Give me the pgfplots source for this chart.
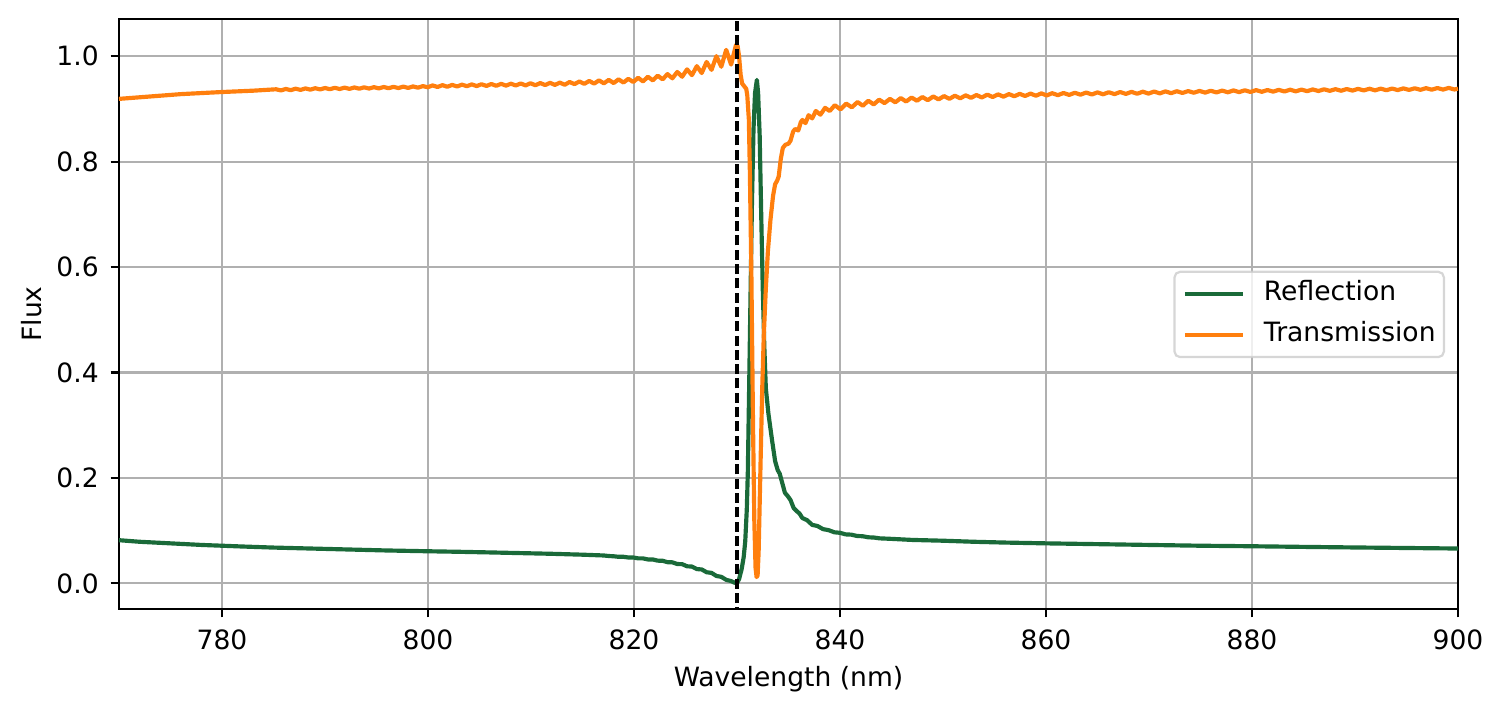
\documentclass[border=0pt]{standalone}
\usepackage{pgfplots}
\pgfplotsset{compat=1.18}
\usepackage{fontspec}
\setmainfont{DejaVu Sans}
\definecolor{refgreen}{HTML}{1A6A39}
\definecolor{traorange}{HTML}{FF7F0E}
\definecolor{gridgray}{HTML}{B0B0B0}
\definecolor{legframe}{HTML}{CCCCCC}
\begin{document}
\fontsize{9.6}{11.5}\selectfont
\begin{tikzpicture}
\useasboundingbox (0,0) rectangle (540.72bp,256.68bp);
\begin{axis}[
  at={(42.84bp,37.44bp)}, anchor=south west,
  scale only axis, width=482.04bp, height=212.4bp,
  xmin=770, xmax=900, ymin=-0.0485, ymax=1.0705,
  xtick={780,800,...,900}, ytick={0,0.2,...,1.0},
  grid=major, major grid style={color=gridgray, line width=0.75bp},
  axis line style={line width=0.75bp, black},
  tick align=outside, major tick length=3bp,
  every tick/.style={black, line width=0.75bp},
  xtick pos=bottom, ytick pos=left,
  /pgf/number format/assume math mode=true,
  tick label style={font=\fontsize{9.6}{11.5}\selectfont},
  xticklabel style={inner sep=0pt, anchor=north, yshift=-4.3bp},
  yticklabel style={inner sep=0pt, anchor=east, xshift=-4.1bp,
    /pgf/number format/.cd, fixed, fixed zerofill, precision=1},
  xlabel={Wavelength (nm)}, ylabel={Flux},
  label style={font=\fontsize{9.6}{11.5}\selectfont},
  xlabel style={at={(axis description cs:0.5,-0.1186)}, anchor=center, inner sep=0pt},
  ylabel style={at={(axis description cs:-0.065,0.5)}, anchor=center, inner sep=0pt, rotate=0},
  legend cell align=left,
  legend image code/.code={\draw[#1, opacity=1, draw opacity=1] (0bp,0bp) -- (20.9bp,0bp);},
  legend style={at={(0.9903,0.4992)}, anchor=east,
    draw=legframe, line width=0.8bp, fill=white, fill opacity=0.8, draw opacity=0.8, text opacity=1,
    rounded corners=2bp, inner xsep=3.0bp, inner ysep=3.2bp,
    font=\fontsize{9.6}{11.5}\selectfont,
    nodes={inner sep=0pt, text height=7.2bp, text depth=2.3bp},
    row sep=5.3bp,
    /tikz/every odd column/.append style={column sep=6.8bp}},
]
\addplot[refgreen, line width=1.5bp, line join=round] coordinates {
(770,0.082)(772,0.079)(774,0.077)(776,0.075)(778,0.073)(780,0.0715)(782,0.070)(785,0.068)(788,0.0665)(790,0.0655)(793,0.064)(796,0.0625)(800,0.061)(803,0.060)(806,0.0588)(809,0.0575)(812,0.0562)(815,0.0545)
(817.075,0.0530)(817.55,0.0520)(818.025,0.0515)(818.5,0.0505)(818.975,0.0505)(819.45,0.0492)(819.925,0.0492)(820.4,0.0475)(820.875,0.0475)(821.35,0.0455)(821.825,0.0455)(822.3,0.0432)(822.775,0.0430)(823.25,0.0403)(823.725,0.0400)(824.2,0.0368)(824.675,0.0365)(825.15,0.0325)(825.625,0.0320)(826.1,0.0272)(826.575,0.0265)(827.05,0.0212)(827.525,0.0200)(828.0,0.0142)(828.475,0.0125)(828.95,0.0068)(829.425,0.0045)(829.75,0.0015)(830.0,0.0005)
(830.2,0.008)(830.45,0.027)(830.65,0.05)(830.8,0.08)(830.95,0.14)(831.05,0.21)(831.17,0.36)(831.3,0.53)(831.45,0.72)(831.6,0.86)(831.75,0.93)(831.93,0.955)(832.05,0.93)(832.2,0.85)(832.35,0.70)(832.5,0.56)(832.65,0.45)(832.8,0.37)(833.05,0.322)(833.4,0.272)(833.7,0.232)(833.95,0.215)(834.15,0.208)(834.4,0.190)(834.65,0.172)(834.95,0.165)(835.2,0.158)(835.5,0.143)(835.8,0.137)(836.05,0.133)(836.35,0.124)(836.8,0.120)(837.3,0.111)(837.8,0.109)(838.35,0.103)(838.9,0.101)(839.45,0.097)(840.0,0.096)(840.55,0.093)(841.1,0.0925)(841.65,0.090)(842.2,0.0895)(842.75,0.0875)(843.3,0.087)(843.85,0.0855)
(845,0.0845)(847,0.0825)(850,0.081)(853,0.079)(856,0.0775)(860,0.0760)(865,0.0745)(870,0.0730)(875,0.0715)(880,0.0705)(885,0.0693)(890,0.0682)(895,0.0672)(900,0.0662)
};
\addlegendentry{Reflection}
\addplot[traorange, line width=1.5bp, line join=round] coordinates {
(770,0.919)(772,0.922)(774,0.925)(776,0.928)(778,0.930)(780,0.932)(783,0.9345)
(785.25,0.9372)(785.725,0.9350)(786.2,0.9378)(786.675,0.9355)(787.15,0.9383)(787.625,0.9360)(788.1,0.9388)(788.575,0.9365)(789.05,0.9392)(789.525,0.9369)(790.0,0.9396)(790.475,0.9373)(790.95,0.9400)(791.425,0.9377)(791.9,0.9403)(792.375,0.9380)(792.85,0.9406)(793.325,0.9383)(793.8,0.9409)(794.275,0.9386)(794.75,0.9412)(795.225,0.9389)(795.7,0.9415)(796.175,0.9392)(796.65,0.9418)(797.125,0.9395)(797.6,0.9422)(798.075,0.9398)(798.55,0.9426)(799.025,0.9402)(799.5,0.9432)(799.975,0.9410)
(800.45,0.9445)(800.925,0.9415)(801.4,0.9450)(801.875,0.9420)(802.35,0.9455)(802.825,0.9425)(803.3,0.9460)(803.775,0.9430)(804.25,0.9465)(804.725,0.9433)(805.2,0.9468)(805.675,0.9435)(806.15,0.9472)(806.625,0.9438)(807.1,0.9475)(807.575,0.9441)(808.05,0.9478)(808.525,0.9444)(809.0,0.9482)(809.475,0.9446)(809.95,0.9486)(810.425,0.9449)(810.9,0.9490)(811.375,0.9452)(811.85,0.9494)(812.325,0.9455)(812.8,0.9498)(813.275,0.9458)(813.75,0.951)(814.225,0.947)(814.7,0.952)(815.175,0.9475)(815.65,0.953)(816.125,0.948)(816.6,0.954)(817.075,0.9485)(817.55,0.955)(818.025,0.949)(818.5,0.956)(818.975,0.950)(819.45,0.957)(819.925,0.951)(820.4,0.959)(820.875,0.952)(821.35,0.961)(821.825,0.954)(822.3,0.963)(822.775,0.956)(823.25,0.966)(823.725,0.958)(824.2,0.970)(824.675,0.961)(825.15,0.975)(825.625,0.964)(826.1,0.981)(826.575,0.968)(827.05,0.989)(827.525,0.974)(828.0,1.000)(828.475,0.980)(828.95,1.012)(829.425,0.984)(829.9,1.021)
(830.05,1.020)(830.2,1.000)(830.35,0.965)(830.5,0.948)(830.7,0.943)(830.9,0.938)(831.0,0.925)(831.15,0.88)(831.25,0.78)(831.4,0.58)(831.55,0.31)(831.68,0.12)(831.8,0.03)(831.9,0.012)(832.0,0.015)(832.1,0.06)(832.3,0.24)(832.45,0.37)(832.6,0.47)(832.8,0.56)(833.0,0.63)(833.25,0.69)(833.5,0.735)(833.7,0.757)(833.9,0.764)(834.05,0.772)(834.25,0.805)(834.45,0.826)(834.7,0.832)(835.0,0.834)(835.2,0.840)(835.45,0.857)(835.65,0.862)(835.95,0.859)(836.2,0.875)
(836.35,0.879)(836.65,0.873)(836.95,0.888)(837.3,0.882)(837.65,0.896)(838.1,0.889)(838.55,0.902)(839.0,0.896)(839.5,0.907)(840.05,0.899)(840.6,0.910)(841.15,0.903)(841.7,0.913)(842.22,0.906)(842.75,0.9155)(843.27,0.9085)(843.8,0.9175)(844.32,0.911)(844.85,0.919)(845.37,0.9125)(845.9,0.9205)(846.42,0.914)(846.95,0.9215)(847.47,0.9155)(848.0,0.9225)(848.52,0.9165)(849.05,0.9235)(849.57,0.918)(850.1,0.9243)(850.62,0.919)(851.15,0.925)(851.67,0.920)(852.2,0.9257)(852.72,0.921)(853.25,0.9263)(853.77,0.9217)(854.3,0.927)(854.82,0.9225)(855.35,0.9275)(855.87,0.9232)(856.4,0.928)(856.92,0.924)(857.45,0.9285)(857.97,0.9245)(858.5,0.929)(859.02,0.925)(859.55,0.9294)(860.07,0.9255)(860.6,0.9298)
(861.15,0.926)(861.7,0.9302)(862.25,0.9265)(862.8,0.9306)(863.35,0.927)(863.9,0.931)(864.45,0.9273)(865.0,0.9313)(865.55,0.9277)(866.1,0.9316)(866.65,0.928)(867.2,0.932)(867.75,0.9284)(868.3,0.9323)(868.85,0.9287)(869.4,0.9326)(869.95,0.929)(870.5,0.9329)(871.05,0.9294)(871.6,0.9332)(872.15,0.9298)(872.7,0.9335)(873.25,0.9302)(873.8,0.9338)(874.35,0.9306)(874.9,0.9341)(875.45,0.9309)(876.0,0.9344)(876.55,0.9312)(877.1,0.9347)(877.65,0.9315)(878.2,0.935)(878.75,0.9318)(879.3,0.9353)(879.85,0.9321)(880.4,0.9356)
(880.95,0.9324)(881.5,0.9358)(882.05,0.9327)(882.6,0.9361)(883.15,0.933)(883.7,0.9364)(884.25,0.9333)(884.8,0.9366)(885.35,0.9336)(885.9,0.9369)(886.45,0.9339)(887.0,0.9372)(887.55,0.9342)(888.1,0.9374)(888.65,0.9344)(889.2,0.9377)(889.75,0.9347)(890.3,0.938)(890.85,0.935)(891.4,0.9382)(891.95,0.9352)(892.5,0.9384)(893.05,0.9354)(893.6,0.9386)(894.15,0.9357)(894.7,0.9389)(895.25,0.936)(895.8,0.9391)(896.35,0.9362)(896.9,0.9393)(897.45,0.9364)(898.0,0.9396)(898.55,0.9366)(899.1,0.9398)(899.65,0.9368)(900.0,0.9383)
};
\addlegendentry{Transmission}
\addplot[black, line width=1.25bp, dash pattern=on 3.6bp off 1.55bp, forget plot] coordinates {(830,-0.2)(830,1.2)};
\end{axis}
\end{tikzpicture}
\end{document}
